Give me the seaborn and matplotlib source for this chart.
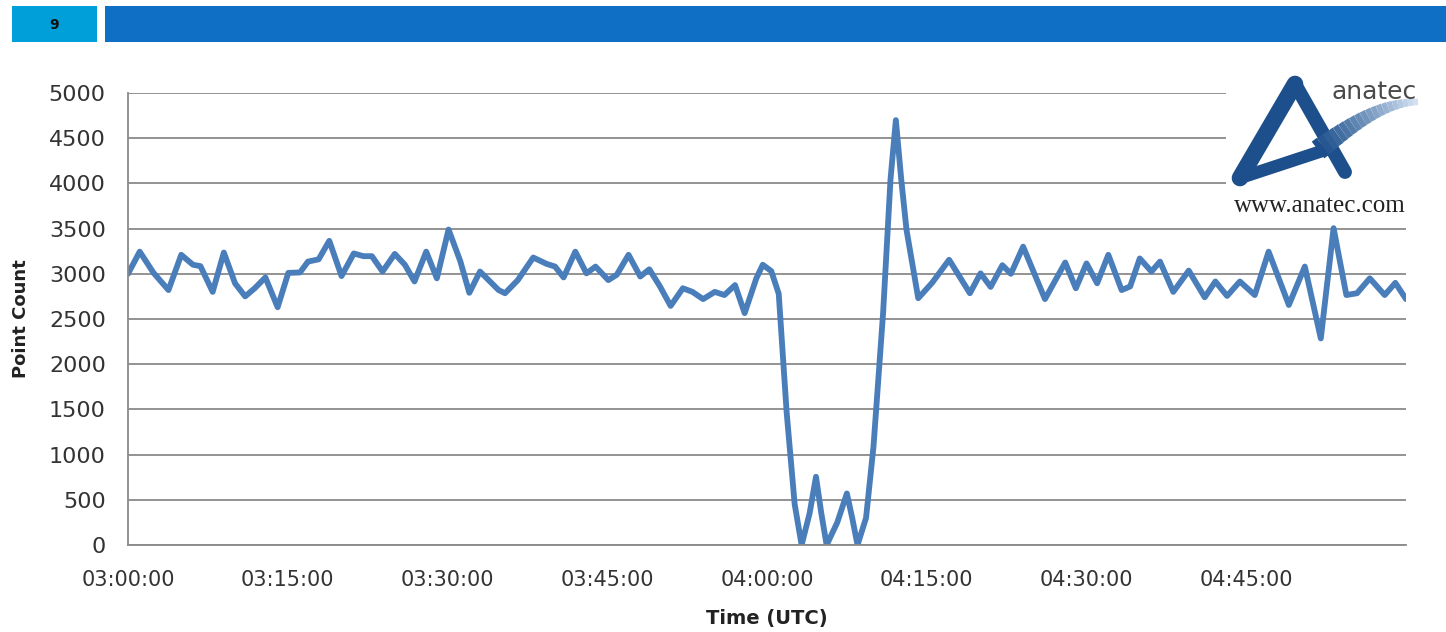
import numpy as np
import pandas as pd
import seaborn as sns
import matplotlib.pyplot as plt

# minutes after 03:00 UTC and point counts
minutes = [0, 1.1, 2.4, 3.8, 5.0, 6.1, 6.8, 7.95, 9.0, 10.05, 11.0, 11.9, 12.9, 14.05,
           15.05, 16.15, 16.9, 17.9, 18.9, 20.05, 21.2, 22.1, 22.9, 23.9, 25.05, 26.0,
           26.9, 28.0, 29.0, 30.1, 31.2, 32.05, 33.05, 34.8, 35.4, 36.6, 38.05, 39.3,
           40.1, 40.9, 42.0, 43.05, 43.9, 45.1, 45.9, 47.0, 48.1, 48.95, 49.95, 50.95,
           52.1, 53.0, 54.0, 55.1, 56.0, 57.0, 57.9, 59.0, 59.6, 60.4, 61.1, 61.85,
           62.6, 63.25, 64.0, 64.6, 65.1, 65.6, 66.6, 67.5, 68.0, 68.5, 69.3, 70.0,
           70.9, 71.6, 72.1, 72.6, 73.1, 74.2, 75.5, 77.1, 79.05, 80.05, 81.0, 82.1,
           82.9, 84.05, 86.1, 88.0, 89.0, 90.0, 91.0, 92.05, 93.3, 94.1, 95.0, 96.1,
           96.9, 98.15, 99.6, 101.1, 102.1, 103.2, 104.4, 105.8, 107.1, 109.0, 110.5,
           112.0, 113.2, 114.4, 115.4, 116.6, 118.0, 119.0, 120.0]
counts = [3000, 3245, 3010, 2820, 3210, 3100, 3085, 2800, 3235, 2895, 2750, 2840, 2960, 2630,
          3010, 3015, 3135, 3160, 3365, 2975, 3225, 3195, 3195, 3025, 3220, 3100,
          2915, 3245, 2950, 3490, 3140, 2790, 3025, 2820, 2785, 2930, 3180, 3110,
          3080, 2960, 3245, 3005, 3080, 2930, 2990, 3210, 2970, 3050, 2860, 2645,
          2840, 2800, 2720, 2800, 2765, 2875, 2565, 2950, 3100, 3030, 2780, 1460,
          450, 0, 350, 755, 350, 0, 250, 570, 300, 0, 300, 1090,
          2565, 4050, 4700, 4050, 3485, 2730, 2900, 3155, 2785, 3005, 2855, 3095,
          3000, 3300, 2720, 3125, 2840, 3115, 2895, 3210, 2820, 2860, 3170, 3025,
          3135, 2800, 3035, 2740, 2915, 2755, 2915, 2765, 3245, 2655, 3080,
          2285, 3505, 2765, 2785, 2950, 2765, 2900, 2720]

tick_minutes = [0, 15, 30, 45, 60, 75, 90, 105]
tick_labels = ["03:00:00", "03:15:00", "03:30:00", "03:45:00",
               "04:00:00", "04:15:00", "04:30:00", "04:45:00"]
y_ticks = list(range(0, 5001, 500))

W, H = 1446, 632

sns.set_theme(style="white")
plt.rcParams['font.family'] = ['DejaVu Sans']

fig = plt.figure(figsize=(W / 100, H / 100), dpi=100)
ax = fig.add_axes([128 / W, 1 - 545 / H, (1406 - 128) / W, (545 - 93) / H])

df = pd.DataFrame({"minute": minutes, "count": counts})
sns.lineplot(data=df, x="minute", y="count", ax=ax, color="#4a7ebb",
             linewidth=4.2, solid_joinstyle="round", solid_capstyle="round")

ax.set_xlim(0, 120)
ax.set_ylim(0, 5000)
ax.set_xticks(tick_minutes)
ax.set_xticklabels(tick_labels)
ax.set_yticks(y_ticks)
ax.set_yticklabels([str(v) for v in y_ticks])

grey = "#8a8a8a"
ax.yaxis.grid(True, color=grey, linewidth=1.3)
ax.set_axisbelow(True)
for s in ["top", "right"]:
    ax.spines[s].set_visible(False)
for s in ["left", "bottom"]:
    ax.spines[s].set_color(grey)
    ax.spines[s].set_linewidth(1.3)
ax.tick_params(axis="both", which="major", direction="out", length=6, width=1.3,
               color=grey, labelcolor="#333333")
ax.tick_params(axis="x", labelsize=15, pad=12)
ax.tick_params(axis="y", labelsize=16, pad=10)

ax.set_xlabel("Time (UTC)", fontsize=14, fontweight="bold", color="#222222")
ax.set_ylabel("Point Count", fontsize=13, fontweight="bold", color="#222222")
ax.xaxis.set_label_coords(0.5, (545 - 609) / (545 - 93))
ax.yaxis.set_label_coords((30 - 128) / (1406 - 128), 0.5)

# overlay for slide header and logo, in pixel coordinates
deco = fig.add_axes([0, 0, 1, 1], zorder=5)
deco.set_xlim(0, W)
deco.set_ylim(H, 0)
deco.axis("off")
deco.patch.set_alpha(0)

deco.add_patch(plt.Rectangle((12, 6), 85, 36, color="#009fd9", lw=0))
deco.add_patch(plt.Rectangle((105, 6), W - 105, 36, color="#0e6fc4", lw=0))
deco.text(54, 25, "9", ha="center", va="center", fontsize=10, fontweight="bold", color="#111111")

deco.add_patch(plt.Rectangle((1226, 66), W - 1226, 154, color="white", lw=0))
logo_blue = "#1d4f8c"
deco.plot([1240, 1295], [178, 84], color=logo_blue, lw=12, solid_capstyle="round")
deco.plot([1295, 1345], [84, 172], color=logo_blue, lw=10, solid_capstyle="round")
deco.plot([1240, 1325], [178, 150], color=logo_blue, lw=9, solid_capstyle="round")
# swoosh fading to the right
n = 20
sx = np.linspace(1318, 1418, n + 1)
sy = 150 - 48 * np.sin(np.linspace(0, 1, n + 1) * np.pi / 2)
for i in range(n):
    f = i / n
    c = (0.11 + 0.75 * f, 0.31 + 0.60 * f, 0.55 + 0.42 * f)
    deco.plot(sx[i:i + 2], sy[i:i + 2], color=c, lw=15 - 11 * f, solid_capstyle="butt")
deco.text(1374, 92, "anatec", ha="center", va="center", fontsize=18, color="#4a4a4a")
deco.text(1320, 206, "www.anatec.com", ha="center", va="center", fontsize=18,
          family="Liberation Serif", color="#222222")

fig.savefig("out.png", dpi=100)
